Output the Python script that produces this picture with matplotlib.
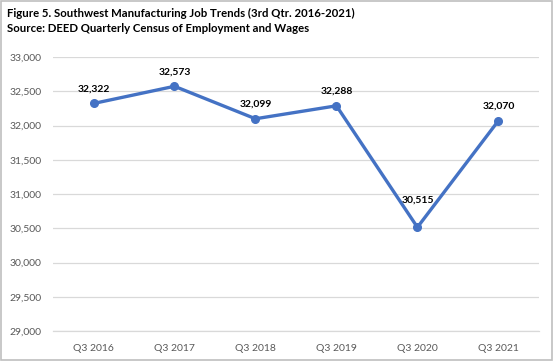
import matplotlib
matplotlib.use('Agg')
import matplotlib.pyplot as plt
from matplotlib.patches import Rectangle

# Data
quarters = ['Q3 2016', 'Q3 2017', 'Q3 2018', 'Q3 2019', 'Q3 2020', 'Q3 2021']
jobs = [32322, 32573, 32099, 32288, 30515, 32070]
y_ticks = [29000, 29500, 30000, 30500, 31000, 31500, 32000, 32500, 33000]

plt.rcParams['font.family'] = ['Lato', 'DejaVu Sans']

fig = plt.figure(figsize=(5.54, 3.61), dpi=100)
ax = fig.add_axes([0.0957, 0.083, 0.877, 0.759])

x = list(range(len(quarters)))
ax.plot(x, jobs, color='#4472C4', linewidth=2.4, marker='o', markersize=5.5, zorder=3)

for xi, v in zip(x, jobs):
    # the 2020 label sits higher, over the V of the line
    off = (0, 16) if v == 30515 else (0, 7)
    ax.annotate(f'{v:,}', (xi, v), xytext=off, textcoords='offset points',
                ha='center', va='bottom', fontsize=7.5, fontweight='bold', color='black',
                zorder=4)

ax.set_xlim(-0.5, len(quarters) - 0.5)
ax.set_ylim(29000, 33000)
ax.set_yticks(y_ticks)
ax.set_yticklabels([f'{t:,}' for t in y_ticks])
ax.set_xticks(x)
ax.set_xticklabels(quarters)
ax.tick_params(axis='both', length=0, labelsize=7.5, colors='#595959')
ax.tick_params(axis='y', pad=8)
ax.tick_params(axis='x', pad=9)

ax.grid(axis='y', color='#d9d9d9', linewidth=0.9)
ax.set_axisbelow(True)
for side in ['top', 'right', 'left']:
    ax.spines[side].set_visible(False)
ax.spines['bottom'].set_color('#d9d9d9')
ax.spines['bottom'].set_linewidth(0.9)

fig.text(0.012, 0.978, 'Figure 5. Southwest Manufacturing Job Trends (3rd Qtr. 2016-2021)\n'
         'Source: DEED Quarterly Census of Employment and Wages',
         ha='left', va='top', fontsize=8.2, fontweight='bold', linespacing=1.45)

fig.patches.append(Rectangle((0.002, 0.003), 0.995, 0.993, transform=fig.transFigure,
                             fill=False, edgecolor='#bfbfbf', linewidth=1.2))

fig.savefig('out.png', dpi=100)
